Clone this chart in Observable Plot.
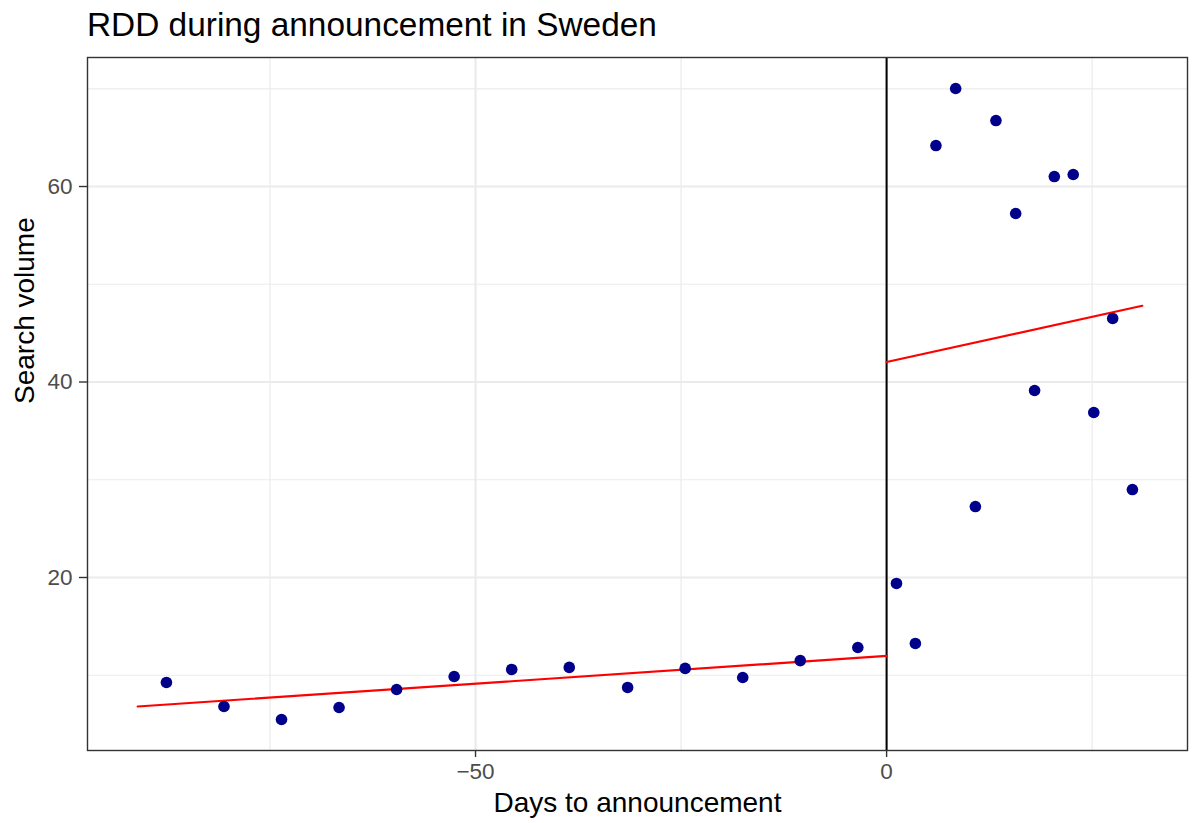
<!DOCTYPE html>
<html>
<head>
<meta charset="utf-8">
<script src="https://cdn.jsdelivr.net/npm/d3@7"></script>
<script src="https://cdn.jsdelivr.net/npm/@observablehq/plot@0.6"></script>
<style>
  body { margin: 0; background: #fff; font-family: "Liberation Sans", Arial, sans-serif; }
  #title { height: 50px; line-height: 50px; padding-left: 87px; font-size: 33.4px; color: #000; white-space: nowrap; }
</style>
</head>
<body>
<div id="title">RDD during announcement in Sweden</div>
<div id="chart"></div>
<script>
// Weekly search volume before the announcement
const beforeDays = [-87.6, -80.6, -73.6, -66.6, -59.6, -52.6, -45.6, -38.6, -31.5, -24.5, -17.5, -10.5, -3.5];
const beforeVolume = [9.26, 6.8, 5.47, 6.7, 8.54, 9.87, 10.59, 10.8, 8.75, 10.7, 9.77, 11.5, 12.84];

// Search volume after the announcement
const afterDays = [1.2, 3.5, 6.0, 8.4, 10.8, 13.3, 15.7, 18.0, 20.4, 22.7, 25.2, 27.5, 29.9];
const afterVolume = [19.39, 13.25, 64.19, 70.03, 27.26, 66.75, 57.24, 39.13, 61.02, 61.23, 36.88, 46.5, 29.0];

// Fitted linear segments on each side of the cutoff
const fitBeforeDays = [-91.1, 0];
const fitBeforeVolume = [6.8, 11.98];
const fitAfterDays = [0, 31.1];
const fitAfterVolume = [42.05, 47.8];

const xMajor = [-50, 0];
const xMinor = [-75, -25, 25];
const yMajor = [20, 40, 60];
const yMinor = [10, 30, 50, 70];

const points = [
  ...beforeDays.map((d, i) => ({day: d, volume: beforeVolume[i]})),
  ...afterDays.map((d, i) => ({day: d, volume: afterVolume[i]}))
];
const fitBefore = fitBeforeDays.map((d, i) => ({day: d, volume: fitBeforeVolume[i]}));
const fitAfter = fitAfterDays.map((d, i) => ({day: d, volume: fitAfterVolume[i]}));

const chart = Plot.plot({
  width: 1192,
  height: 773,
  marginTop: 7,
  marginBottom: 73,
  marginLeft: 87,
  marginRight: 5,
  style: {fontFamily: "Liberation Sans, Arial, sans-serif", background: "#fff"},
  x: {domain: [-97.2, 36.6]},
  y: {domain: [2.3, 73.2]},
  marks: [
    Plot.ruleX(xMinor, {stroke: "#ebebeb", strokeWidth: 1.2}),
    Plot.ruleY(yMinor, {stroke: "#ebebeb", strokeWidth: 1.2}),
    Plot.ruleX(xMajor, {stroke: "#ebebeb", strokeWidth: 2.2}),
    Plot.ruleY(yMajor, {stroke: "#ebebeb", strokeWidth: 2.2}),
    Plot.ruleX([0], {stroke: "#000", strokeWidth: 2}),
    Plot.line(fitBefore, {x: "day", y: "volume", stroke: "#ff0000", strokeWidth: 2.2}),
    Plot.line(fitAfter, {x: "day", y: "volume", stroke: "#ff0000", strokeWidth: 2.2}),
    Plot.dot(points, {x: "day", y: "volume", r: 5.8, fill: "#00008b", stroke: "none"}),
    Plot.frame({stroke: "#333", strokeWidth: 1.4}),
    Plot.axisX(xMajor, {tickSize: 7, tickPadding: 6, fontSize: 22.5, color: "#4d4d4d", stroke: "#333", strokeWidth: 1.4, label: null}),
    Plot.axisY(yMajor, {tickSize: 8, tickPadding: 7, fontSize: 22.5, color: "#4d4d4d", stroke: "#333", strokeWidth: 1.4, label: null}),
    Plot.text(["Days to announcement"], {frameAnchor: "bottom", dy: 61, fontSize: 28, fill: "#000", text: d => d}),
    Plot.text(["Search volume"], {frameAnchor: "left", dx: -62, rotate: -90, fontSize: 28, fill: "#000", text: d => d})
  ]
});
document.getElementById("chart").appendChild(chart);
</script>
</body>
</html>
